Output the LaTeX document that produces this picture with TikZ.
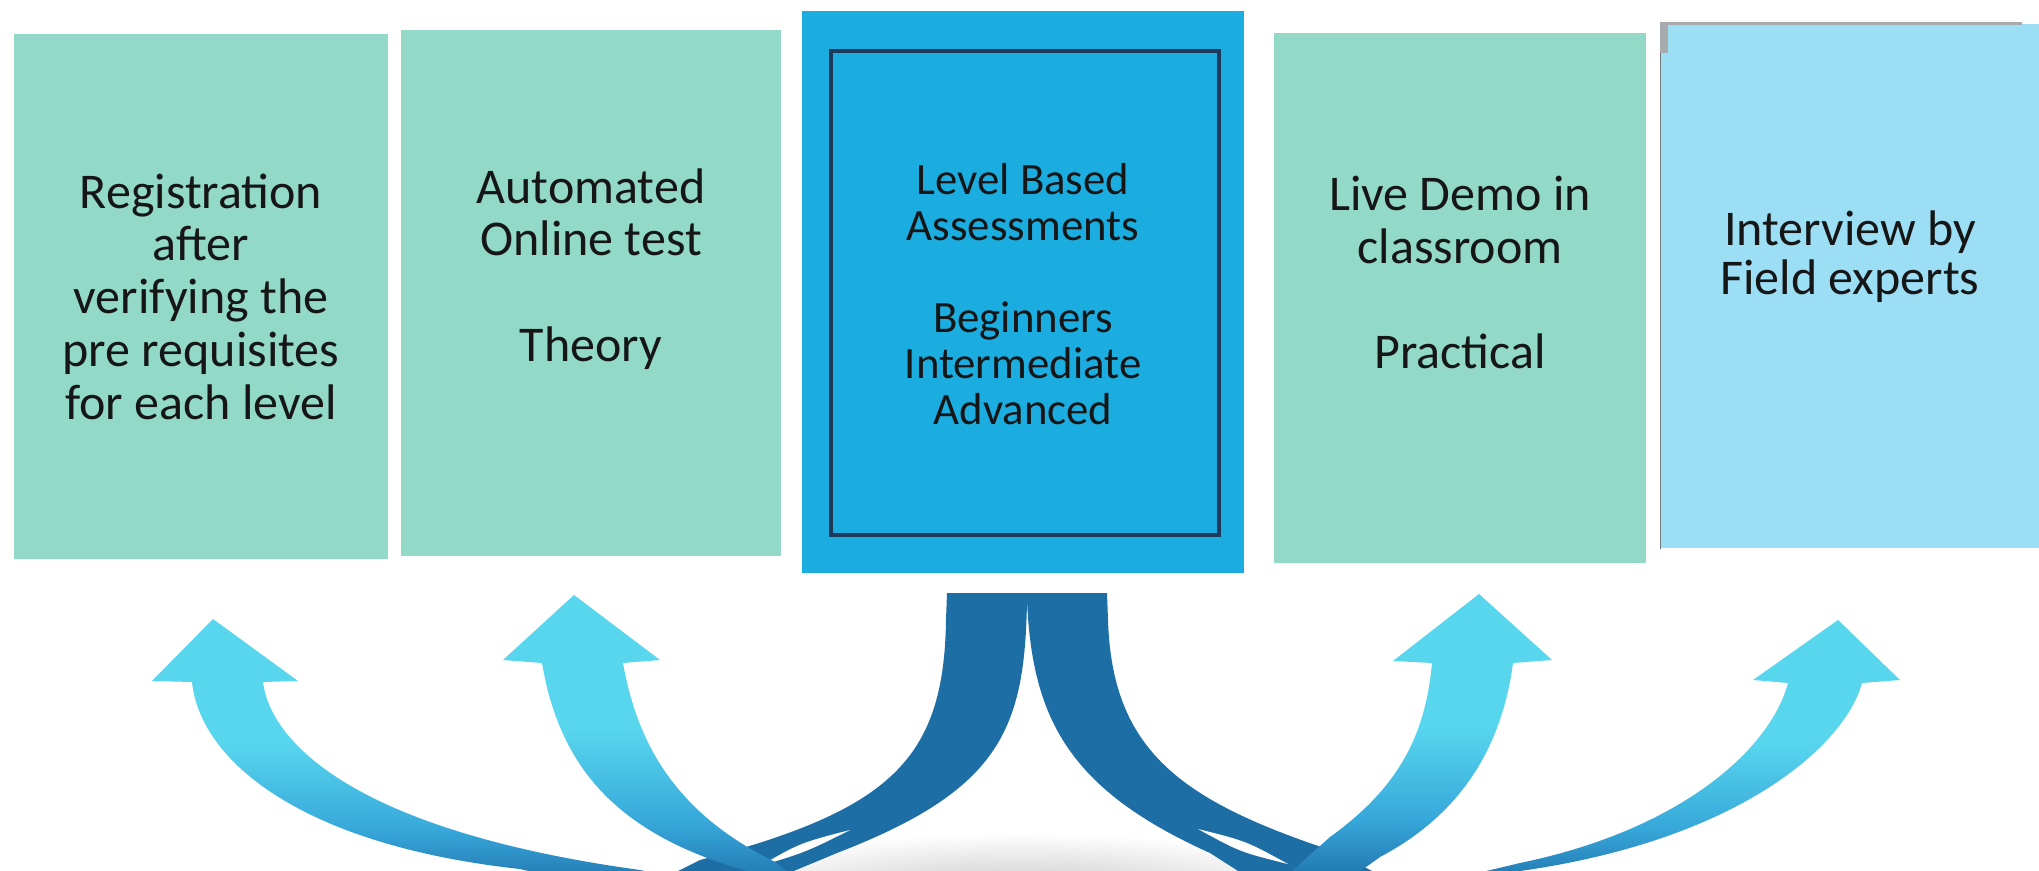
\documentclass[tikz,border=0pt]{standalone}
\usepackage{fontspec}
\setmainfont{Carlito}

\definecolor{stagegreen}{HTML}{93D9C7}
\definecolor{levelblue}{HTML}{1BADDF}
\definecolor{interviewblue}{HTML}{9CDFF5}
\definecolor{framenavy}{HTML}{1B3A5C}
\definecolor{edgegray}{HTML}{A7ABAE}
\definecolor{inkblack}{HTML}{161616}
\definecolor{stemblue}{HTML}{1E6EA6}
\definecolor{arrowlight}{HTML}{58D6EE}
\definecolor{arrowmid}{HTML}{37A8DA}
\definecolor{arrowdark}{HTML}{1F72AC}

\pgfdeclareverticalshading{arrowfade}{100bp}{color(0bp)=(arrowdark); color(25bp)=(arrowdark); color(36bp)=(arrowmid); color(52bp)=(arrowlight); color(100bp)=(arrowlight)}

\begin{document}
\begin{tikzpicture}[x=0.5pt,y=-0.5pt,semithick]
			\tikzstyle{stagebox}=[rectangle,inner sep=0pt,fill=stagegreen]
			\tikzstyle{stagetext}=[align=center,inner sep=0pt,text=inkblack,font=\fontsize{25}{26.4}\selectfont]
			\tikzstyle{leveltext}=[stagetext,font=\fontsize{22.4}{23}\selectfont]
			\tikzstyle{upshaft}=[shading=arrowfade]
			\tikzstyle{stem}=[fill=stemblue]
			
			\useasboundingbox (0,0) rectangle (2039,871);
			\fill[white] (0,0) rectangle (2039,871);
			\clip (0,0) rectangle (2039,871);
			
			% the five stages
			\node[stagebox,minimum width=187pt,minimum height=262.5pt]                (B_1) at (201,296.5) {};
			\node[stagebox,minimum width=190pt,minimum height=263pt]                  (B_2) at (591,293)   {};
			\node[stagebox,fill=levelblue,minimum width=221pt,minimum height=281pt]   (B_3) at (1023,292)  {};
			\node[rectangle,draw=framenavy,line width=1.6pt,minimum width=194pt,minimum height=242pt] (F_3) at (1025,293) {};
			\node[stagebox,minimum width=186pt,minimum height=265pt]                  (B_4) at (1460,298)  {};
			\node[stagebox,fill=interviewblue,minimum width=189pt,minimum height=262pt] (B_5) at (1850,286) {};
			
			\draw[edgegray,line width=1.5pt] (B_5.north west) -- ([xshift=-9pt]B_5.north east);
			\draw[edgegray!70!black,line width=0.6pt] (B_5.north west) -- (B_5.south west);
			\fill[edgegray] (B_5.north west) rectangle ++(8,30);
			
			\node[stagetext]         (T_1)                  at (B_1) {Registration\\after\\verifying the\\pre requisites\\for each level};
			\node[stagetext]         (T_2) [yshift=12pt]    at (B_2) {Automated\\Online test\\[26.4pt]Theory};
			\node[leveltext]         (T_3) [yshift=-1pt]    at (B_3) {Level Based\\Assessments\\[23pt]Beginners\\Intermediate\\Advanced};
			\node[stagetext]         (T_4) [yshift=12.7pt]  at (B_4) {Live Demo in\\classroom\\[26pt]Practical};
			\node[stagetext,font=\fontsize{25}{24.5}\selectfont] (T_5) [yshift=14.7pt] at (B_5) {Interview by\\Field experts};
			
			% shadow on the floor
			\shade[inner color=gray!45,outer color=white] (1020,895) ellipse (340 and 62);
			
			% dark stems under the level box
			\path[stem] (947,593) -- (1027,593) -- (1027,600)
			.. controls (1025,730) and (1000,790) .. (837,853) -- (760,885)
			-- (650,885) -- (700,860)
			.. controls (890,810) and (944,760) .. (946,620) -- cycle;
			\path[stem] (1027,593) -- (1107,593) -- (1108,620)
			.. controls (1112,750) and (1180,800) .. (1330,850) -- (1400,885)
			-- (1260,885) -- (1210,853)
			.. controls (1070,790) and (1032,720) .. (1027,600) -- cycle;
			\fill[white] (760,866) .. controls (800,843) .. (850,830) .. controls (806,852) .. (760,866);
			\fill[white] (1288,864) .. controls (1246,841) .. (1198,829) .. controls (1240,852) .. (1288,864);
			
			% rising arrows
			\shade[upshaft] (213,619) -- (298,681) -- (263,682)
			.. controls (270,740) and (350,830) .. (640,870) -- (700,882)
			-- (600,888) -- (520,869)
			.. controls (300,845) and (200,760) .. (192,682)
			-- (152,681) -- cycle;
			\shade[upshaft] (574,595) -- (660,660) -- (623,663)
			.. controls (640,760) and (690,820) .. (775,862) -- (805,885)
			-- (755,886) -- (747,871)
			.. controls (620,835) and (560,770) .. (542,663)
			-- (503,660) -- cycle;
			\shade[upshaft] (1479,594) -- (1552,660) -- (1513,663)
			.. controls (1500,760) and (1450,820) .. (1380,857) -- (1345,882)
			-- (1280,882) -- (1330,837)
			.. controls (1395,790) and (1425,740) .. (1432,663)
			-- (1393,661) -- cycle;
			\shade[upshaft] (1838,620) -- (1900,680) -- (1862,683)
			.. controls (1845,745) and (1740,840) .. (1520,871) -- (1460,886)
			-- (1440,882) -- (1520,863)
			.. controls (1680,830) and (1770,750) .. (1788,683)
			-- (1753,680) -- cycle;
			
			\end{tikzpicture}
\end{document}
